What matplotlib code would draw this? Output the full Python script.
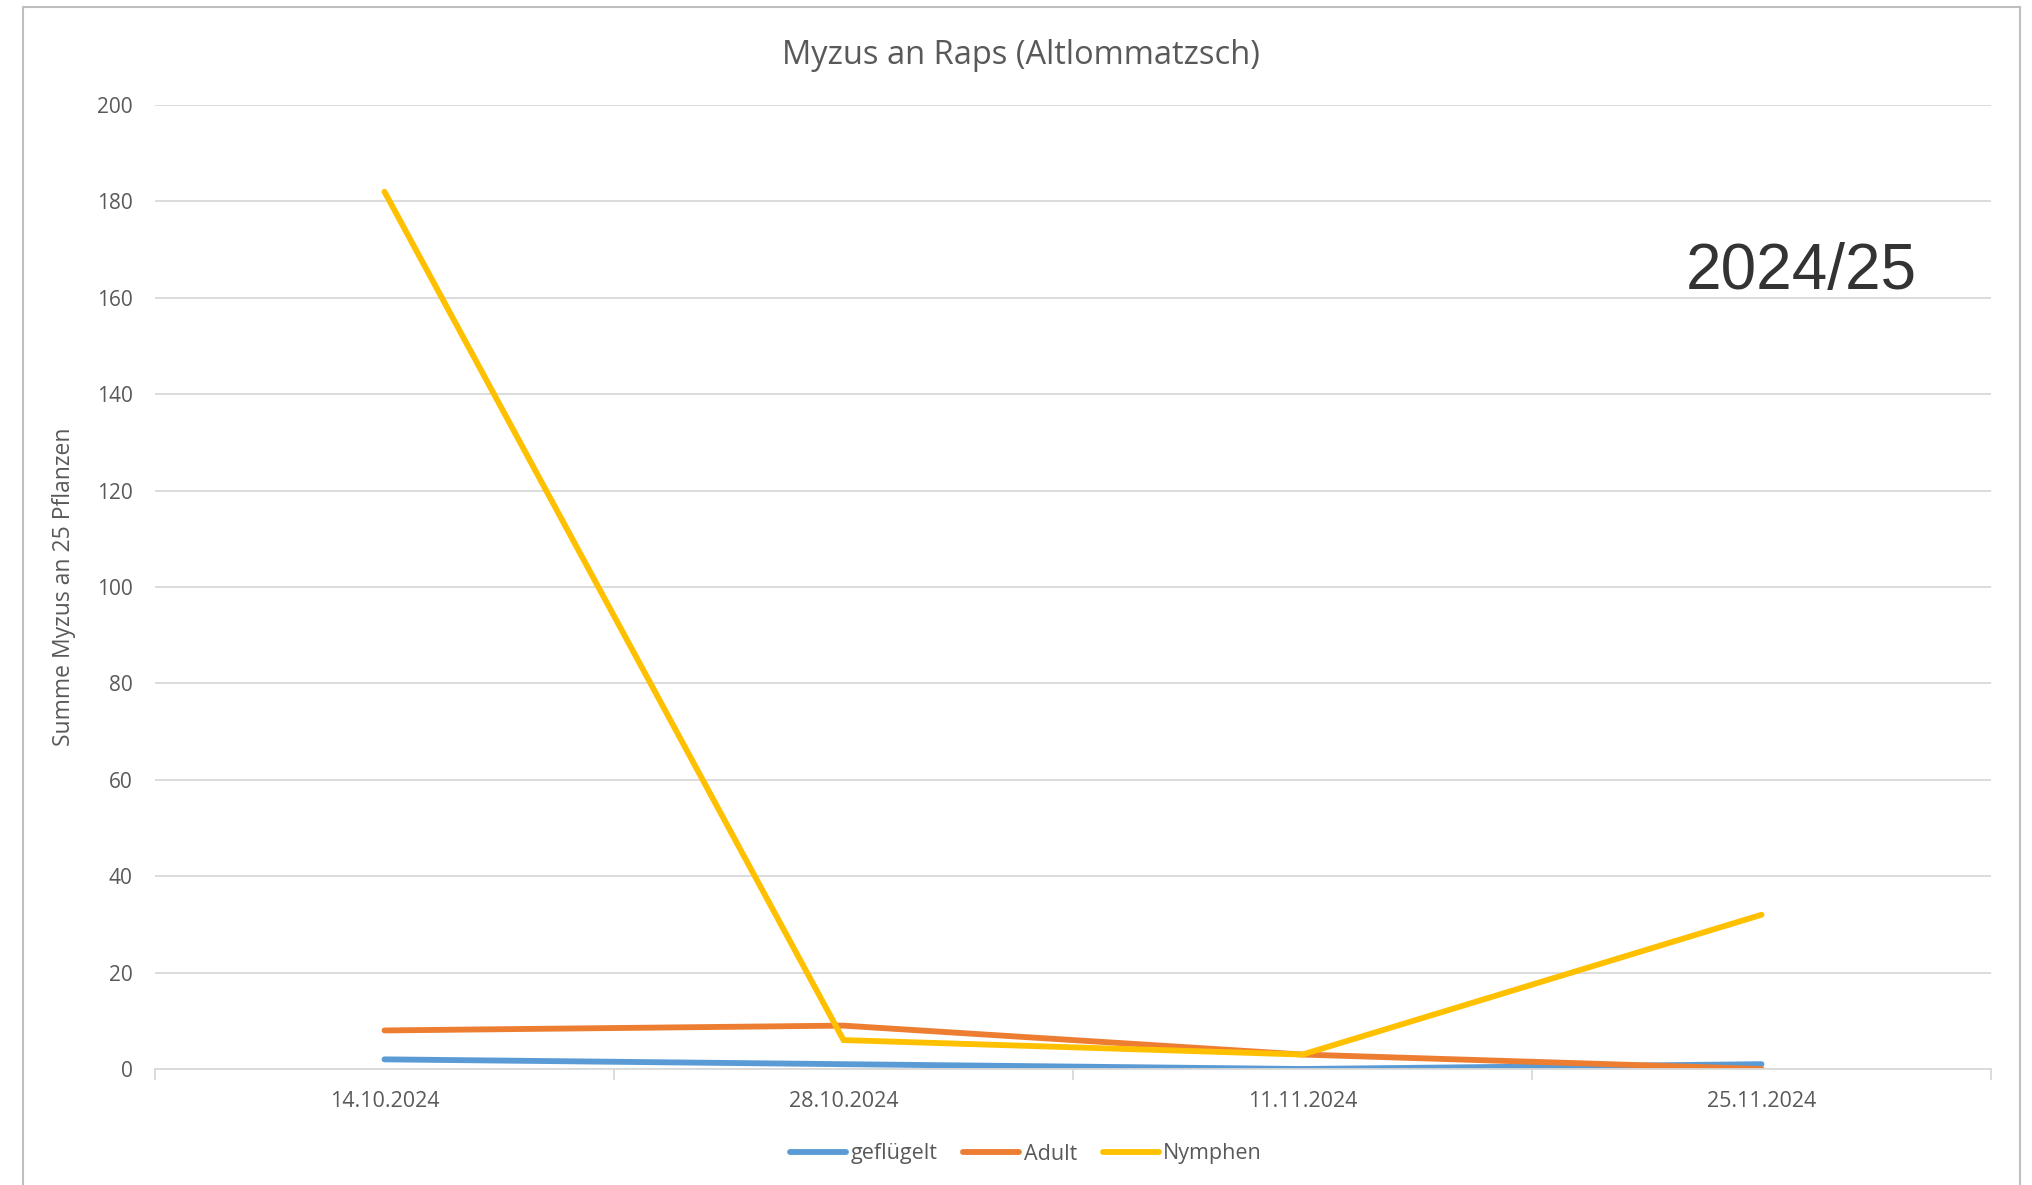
import numpy as np
import matplotlib.pyplot as plt
from matplotlib.lines import Line2D

dates = ["14.10.2024", "28.10.2024", "11.11.2024", "25.11.2024"]
gefluegelt = [2, 1, 0, 1]
adult = [8, 9, 3, 0]
nymphen = [182, 6, 3, 32]

series = [("geflügelt", gefluegelt, "#5B9BD5"),
          ("Adult", adult, "#ED7D31"),
          ("Nymphen", nymphen, "#FFC000")]

plt.rcParams['font.family'] = ['Open Sans', 'DejaVu Sans']
text_col = "#595959"
grid_col = "#D9D9D9"

W, H = 2032, 1185
fig = plt.figure(figsize=(W / 100, H / 100), dpi=100)
ax = fig.add_axes([155 / W, 1 - 1069 / H, (1991 - 155) / W, (1069 - 105) / H])

x = np.arange(len(dates))
for name, vals, col in series:
    ax.plot(x, vals, color=col, linewidth=4.2, label=name, solid_capstyle='round',
            solid_joinstyle='miter')

ax.set_xlim(-0.5, len(dates) - 0.5)
ax.set_ylim(0, 200)
ax.set_yticks(np.arange(0, 201, 20))
ax.grid(axis='y', color=grid_col, linewidth=1.3)
ax.set_axisbelow(True)
for s in ['top', 'right', 'left']:
    ax.spines[s].set_visible(False)
ax.spines['bottom'].set_color(grid_col)
ax.spines['bottom'].set_linewidth(1.3)

ax.set_xticks(x)
ax.set_xticklabels(dates)
ax.set_xticks(np.arange(-0.5, len(dates), 1.0), minor=True)
ax.tick_params(axis='x', which='major', length=0, pad=16, labelsize=15.5, labelcolor=text_col)
ax.tick_params(axis='x', which='minor', length=8, color=grid_col, width=1.3)
ax.tick_params(axis='y', length=0, pad=16, labelsize=15, labelcolor=text_col)

ax.set_ylabel("Summe Myzus an 25 Pflanzen", fontsize=16.5, color=text_col, labelpad=15)
fig.text(1021 / W, 1 - 55 / H, "Myzus an Raps (Altlommatzsch)", fontsize=23.5,
         color=text_col, ha='center', va='center')
fig.text(1801 / W, 1 - 272 / H, "2024/25", fontsize=46, color="#333333",
         ha='center', va='center', family='Liberation Sans')

handles = [Line2D([0], [0], color=c, linewidth=4.2, solid_capstyle='round') for _, _, c in series]
fig.legend(handles, [n for n, _, _ in series], loc='center', bbox_to_anchor=(1026 / W, 1 - 1154 / H),
           ncol=3, frameon=False, fontsize=15.5, labelcolor=text_col, handlelength=2.6,
           handletextpad=0.2, columnspacing=1.2)

# outer chart frame
frame_col = "#BFBFBF"
fig.add_artist(Line2D([23 / W, 23 / W], [0, 1 - 7 / H], color=frame_col, linewidth=1.5))
fig.add_artist(Line2D([23 / W, 2020 / W], [1 - 7 / H, 1 - 7 / H], color=frame_col, linewidth=1.5))
fig.add_artist(Line2D([2020 / W, 2020 / W], [0, 1 - 7 / H], color=frame_col, linewidth=1.5))

fig.savefig("out.png", dpi=100)
